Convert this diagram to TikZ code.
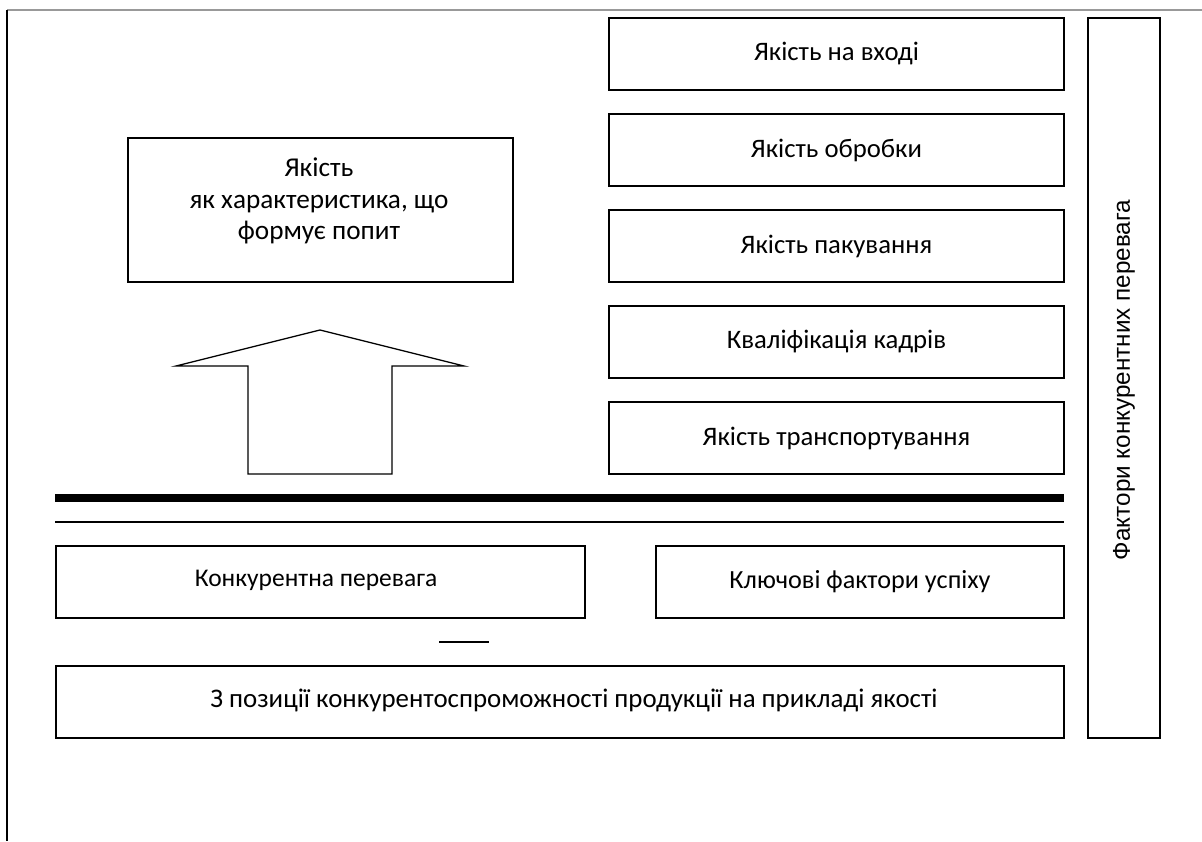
\documentclass[tikz,border=0pt]{standalone}
\usepackage{fontspec}
\setmainfont{Carlito}
\newfontfamily\arialfont{Liberation Sans}

\begin{document}
\begin{tikzpicture}[x=0.02cm,y=-0.02cm,
  box/.style={draw,line width=0.9pt,minimum height=1.44cm,inner sep=0pt,
    font=\fontsize{15.2}{18}\selectfont,align=center},
  rowbox/.style={box,minimum width=9.1cm},
  lab/.style={inner sep=0pt,align=center}]
 \useasboundingbox (0,0) rectangle (1202,841);
 \draw[gray!80,line width=0.7pt] (7,10) -- (1202,10);
 \draw[line width=0.6pt] (7,10) -- (7,841);

 % right stack
 \node[rowbox] (vhid)  at (836.5,54)  {Якість на вході};
 \node[rowbox] (obrob) at (836.5,150) {Якість обробки};
 \node[rowbox] (pak)   at (836.5,246) {Якість пакування};
 \node[rowbox] (kadry) at (836.5,342) {Кваліфікація кадрів};
 \node[rowbox] (trans) at (836.5,438) {Якість транспортування};

 \node[box,minimum width=1.44cm,minimum height=14.4cm] (fakt) at (1124,378) {};
 \node[lab,rotate=90,font=\arialfont\fontsize{13.8}{15}\selectfont] (faktlab) at (1124,380)
   {Фактори конкурентних перевага};

 \node[box,minimum width=7.7cm,minimum height=2.88cm] (popyt) at (320.5,210) {};
 \node[lab,font=\fontsize{15.5}{18}\selectfont] (popytlab) at (319,201)
   {Якість\\ як характеристика, що\\ формує попит};

 % big arrow
 \draw[line width=0.75pt] (320,330) -- (464,366) -- (392,366) -- (392,474) -- (248,474)
   -- (248,366) -- (176,366) -- cycle;

 \coordinate (t1) at (55,498);   \coordinate (t2) at (1064,498);
 \coordinate (s1) at (55,522);   \coordinate (s2) at (1064,522);
 \draw[line width=5pt] (t1) -- (t2);
 \draw[line width=0.8pt] (s1) -- (s2);

 \node[box,minimum width=10.58cm] (perev) at (320.5,582) {};
 \node[lab,font=\fontsize{14.5}{16}\selectfont] (perevlab) at (316,580) {Конкурентна перевага};
 \node[box,minimum width=8.16cm,font=\fontsize{14.9}{16}\selectfont] (kfu) at (860,582)
   {Ключові фактори успіху};

 \coordinate (d1) at (439,642); \coordinate (d2) at (489,642);
 \draw[line width=0.8pt] (d1) -- (d2);

 \node[box,minimum width=20.16cm] (pozic) at (560,702) {};
 \node[lab,font=\fontsize{15.3}{16}\selectfont] (pozlab) at (574,700)
   {З позиції конкурентоспроможності продукції на прикладі якості};
\end{tikzpicture}
\end{document}
